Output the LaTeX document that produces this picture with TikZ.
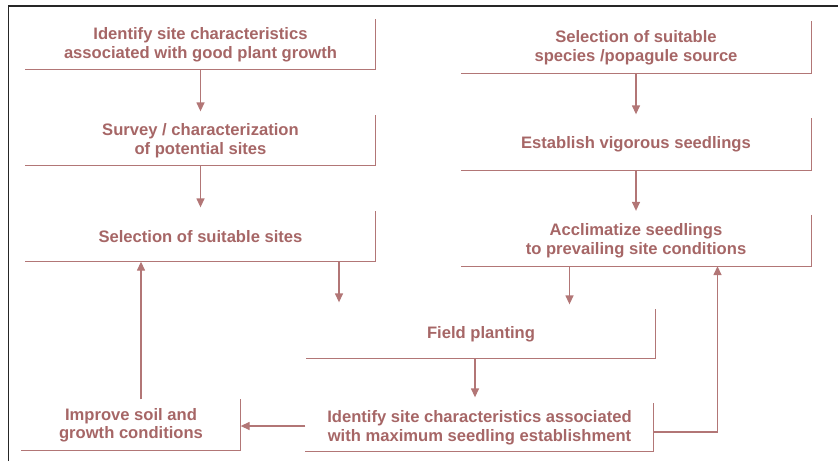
\documentclass[tikz,border=0pt]{standalone}
\usepackage{fontspec}
\setmainfont{Liberation Sans}
\usetikzlibrary{positioning,arrows.meta}
\definecolor{rosetext}{RGB}{166,102,102}
\definecolor{roseline}{RGB}{178,118,118}

\begin{document}
\begin{tikzpicture}[x=1pt,y=-1pt,node distance=96pt,
                    line width=1.3pt,
                    main box/.style={rectangle,inner sep=0pt,minimum width=349pt,minimum height=49pt,
                      align=center,text=rosetext,font=\bfseries\fontsize{16.6}{18.5}\selectfont},
                    box line/.style={draw=roseline,line width=1.2pt},
                    flow/.style={draw=roseline,-{Triangle[width=8pt,length=9pt]}}]

  \useasboundingbox (0,0) rectangle (838,461);
  \draw[line width=1.5pt,black!85] (8.5,461) -- (8.5,6) -- (838,6);

  % left column
  \node[main box] (1) at (200.5,44.5) {Identify site characteristics\\associated with good plant growth};
  \node[main box] (2) [below of=1] {Survey / characterization\\of potential sites};
  \node[main box] (3) [below of=2] {Selection of suitable sites};

  % right column
  \node[main box,minimum height=51pt] (4) at (636,47.5) {Selection of suitable\\species /popagule source};
  \node[main box,minimum height=51pt] (5) [below of=4,node distance=97pt] {Establish vigorous seedlings};
  \node[main box,minimum height=50pt] (6) [below of=5,node distance=96pt] {Acclimatize seedlings\\to prevailing site conditions};

  % bottom row
  \node[main box,minimum width=348pt,minimum height=48pt] (7) at (481,334) {Field planting};
  \node[main box,minimum width=347pt,minimum height=47pt] (8) at (479.5,427.5) {Identify site characteristics associated\\with maximum seedling establishment};
  \node[main box,minimum width=218pt,minimum height=50pt] (9) at (131,425) {Improve soil and\\growth conditions};

  \foreach \n in {1,...,9}
    \draw[box line] (\n.north east) -- (\n.south east) -- (\n.south west);

  \draw[flow,shorten >=4pt] (1) -- (2);
  \draw[flow,shorten >=4pt] (2) -- (3);
  \draw[flow,shorten >=4pt] (4) -- (5);
  \draw[flow,shorten >=4pt] (5) -- (6);
  \draw[flow,shorten >=7pt] ([xshift=138.5pt]3.south) -- ([xshift=138.5pt]3.south |- 7.north);
  \draw[flow,shorten >=5pt] ([xshift=-66.5pt]6.south) -- ([xshift=-66.5pt]6.south |- 7.north);
  \draw[flow,shorten >=6pt] ([xshift=-6pt]7.south) -- ([xshift=-6pt]7.south |- 8.north);
  \draw[flow] ([yshift=1.5pt]8.west) -- ([yshift=1.5pt]8.west -| 9.east);
  \draw[flow] ([xshift=10pt]9.north) -- ([xshift=10pt]9.north |- 3.south);
  \draw[flow] ([yshift=-4.5pt]8.east) -| ([xshift=81.5pt]6.south);
\end{tikzpicture}
\end{document}
